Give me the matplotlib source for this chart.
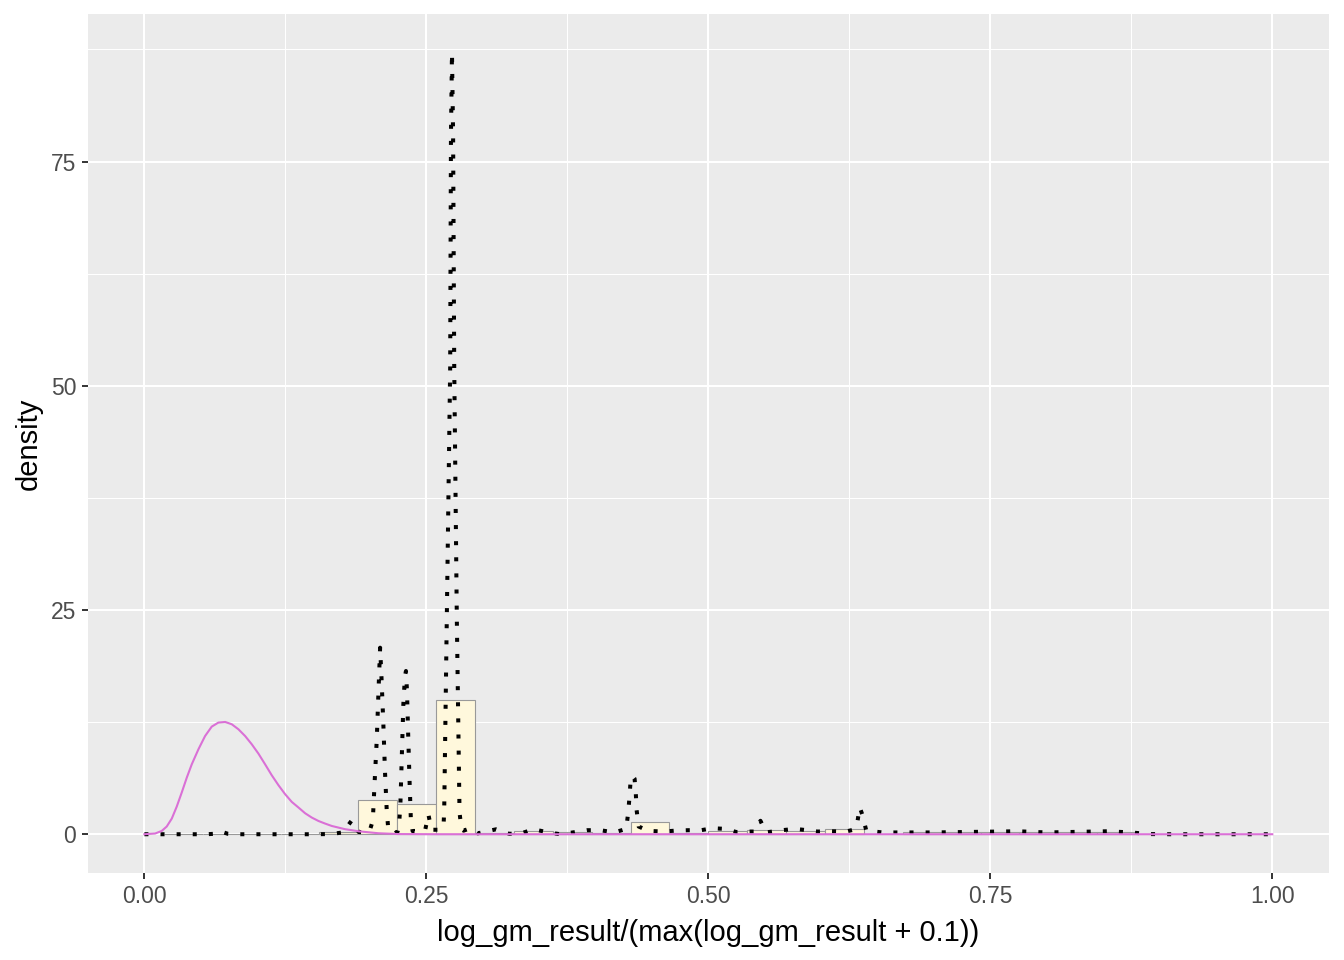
import matplotlib
matplotlib.use("Agg")
import matplotlib.pyplot as plt
import numpy as np

plt.rcParams["font.family"] = ["Liberation Sans", "DejaVu Sans"]

# histogram on the density scale: 30 bins of width 1/29 (ggplot bins=30)
hist_density = [0.0, 0.05, 0.05, 0.02, 0.02, 0.3, 3.8, 3.4, 15.0, 0.1,
                0.33, 0.2, 0.1, 1.4, 0.18, 0.33, 0.52, 0.41, 0.63, 0.0,
                0.22, 0.22, 0.22, 0.22, 0.22, 0.22, 0.0, 0.0, 0.0, 0.0]

# kernel density estimate (dotted line)
kde_x = [0.0, 0.055, 0.062, 0.068, 0.074, 0.080, 0.150, 0.165, 0.176, 0.1836,
         0.190, 0.195, 0.1995, 0.2025, 0.2040, 0.2060, 0.2080, 0.2090, 0.2102, 0.2118,
         0.2133, 0.2148, 0.2160, 0.2180, 0.2217, 0.2245, 0.2258, 0.2270, 0.2283, 0.2296,
         0.2310, 0.2319, 0.2328, 0.2340, 0.2352, 0.2362, 0.2378, 0.2415, 0.2470, 0.2490,
         0.2518, 0.2545, 0.2575, 0.2615, 0.2645, 0.2652, 0.2658, 0.2681, 0.2711, 0.2718,
         0.2727, 0.2737, 0.2747, 0.2770, 0.2794, 0.2812, 0.2830, 0.2897, 0.2955, 0.3118,
         0.3235, 0.3340, 0.3450, 0.3583, 0.3687, 0.3797, 0.3923, 0.4042, 0.4166, 0.4272,
         0.4289, 0.4302, 0.4311, 0.4328, 0.4346, 0.4357, 0.4364, 0.4382, 0.4470, 0.4603,
         0.4716, 0.4825, 0.4935, 0.5038, 0.5147, 0.5247, 0.5375, 0.5410, 0.5462, 0.5510,
         0.5653, 0.5768, 0.5874, 0.5969, 0.6094, 0.6220, 0.6285, 0.6318, 0.6342, 0.6366,
         0.6400, 0.6543, 0.6675, 0.7000, 0.7746, 0.8000, 0.8539, 0.8750, 0.8900, 0.9100,
         1.0]
kde_y = [0.0, 0.0, 0.05, 0.3, 0.05, 0.0, 0.0, 0.02, 0.2, 1.5,
         0.25, 0.2, 0.3, 1.5, 5.5, 10.5, 17.5, 20.8, 17.5, 12.5,
         7.0, 2.8, 0.9, 0.3, 0.1, 0.3, 1.0, 3.5, 9.0, 14.5,
         17.6, 18.2, 16.0, 10.5, 5.5, 1.8, 0.35, 0.3, 0.3, 0.5,
         2.2, 0.5, 0.5, 0.5, 0.8, 0.9, 2.6, 24.0, 52.0, 78.0,
         87.1, 78.0, 52.0, 24.0, 2.4, 0.55, 0.4, 0.7, 0.1, 0.55,
         0.05, 0.1, 0.55, 0.2, 0.0, 0.2, 0.45, 0.45, 0.2, 0.6,
         2.4, 4.3, 6.1, 6.5, 6.2, 4.5, 2.7, 0.86, 0.37, 0.3,
         0.41, 0.45, 0.45, 0.67, 0.6, 0.25, 0.3, 0.3, 1.5, 0.2,
         0.45, 0.6, 0.45, 0.3, 0.33, 0.3, 0.5, 1.1, 3.0, 2.15,
         0.41, 0.2, 0.2, 0.2, 0.33, 0.2, 0.33, 0.2, 0.02, 0.0,
         0.0]

# reference curve (magenta)
fit_x = [0.0, 0.0095, 0.0154, 0.0198, 0.0243, 0.0287, 0.0331, 0.0376, 0.0420, 0.0479,
         0.0538, 0.0597, 0.0656, 0.0716, 0.0775, 0.0834, 0.0893, 0.0952, 0.1011, 0.1070,
         0.1129, 0.1189, 0.1248, 0.1307, 0.1366, 0.1425, 0.1484, 0.1543, 0.1602, 0.1662,
         0.1721, 0.1780, 0.1839, 0.1898, 0.2075, 0.2250, 0.2600, 1.0]
fit_y = [0.0, 0.08, 0.37, 0.86, 1.75, 3.09, 4.65, 6.32, 7.80, 9.47,
         10.95, 12.0, 12.45, 12.52, 12.26, 11.70, 10.95, 10.03, 8.99, 7.80,
         6.58, 5.46, 4.46, 3.6, 2.98, 2.34, 1.86, 1.48, 1.19, 0.92,
         0.74, 0.56, 0.45, 0.33, 0.11, 0.02, 0.0, 0.0]

x_breaks = [0.0, 0.25, 0.5, 0.75, 1.0]
x_labels = ["0.00", "0.25", "0.50", "0.75", "1.00"]
y_breaks = [0, 25, 50, 75]
y_labels = ["0", "25", "50", "75"]

fig = plt.figure(figsize=(13.44, 9.6), dpi=100)
ax = fig.add_axes([88 / 1344, 1 - 873.3 / 960, (1328.7 - 88) / 1344, (873.3 - 14) / 960])
ax.set_facecolor("#EBEBEB")

binw = 1 / 29
edges = np.arange(len(hist_density) + 1) * binw - binw / 2
heights = np.array(hist_density)
keep = heights > 0
ax.bar(edges[:-1][keep], heights[keep], width=binw, align="edge",
       color="#FFF8DC", edgecolor="#999999", linewidth=0.8, zorder=2)
ax.plot(kde_x, kde_y, color="black", lw=2.9, linestyle=(0, (1, 3)),
        dash_capstyle="butt", zorder=3)
ax.plot(fit_x, fit_y, color="orchid", lw=1.5, zorder=4)

# ggplot-like 5% expansion
xr = (min(kde_x), max(kde_x))
yr = (0.0, max(kde_y))
ax.set_xlim(xr[0] - 0.05 * (xr[1] - xr[0]), xr[1] + 0.05 * (xr[1] - xr[0]))
ax.set_ylim(yr[0] - 0.05 * (yr[1] - yr[0]), yr[1] + 0.05 * (yr[1] - yr[0]))

ax.set_xticks(x_breaks)
ax.set_xticklabels(x_labels)
ax.set_yticks(y_breaks)
ax.set_yticklabels(y_labels)
ax.set_xticks([0.125, 0.375, 0.625, 0.875], minor=True)
ax.set_yticks([12.5, 37.5, 62.5, 87.5], minor=True)
ax.grid(which="major", color="white", lw=1.5, zorder=0)
ax.grid(which="minor", color="white", lw=0.75, zorder=0)
ax.set_axisbelow(True)
for s in ax.spines.values():
    s.set_visible(False)
ax.tick_params(which="major", length=4.5, width=1.4, color="#333333",
               labelsize=16.5, labelcolor="#4D4D4D", pad=4)
ax.tick_params(which="minor", length=0)

ax.set_xlabel("log_gm_result/(max(log_gm_result + 0.1))", fontsize=21, labelpad=8)
ax.set_ylabel("density", fontsize=21, labelpad=6)

fig.savefig("out.png", dpi=100)
